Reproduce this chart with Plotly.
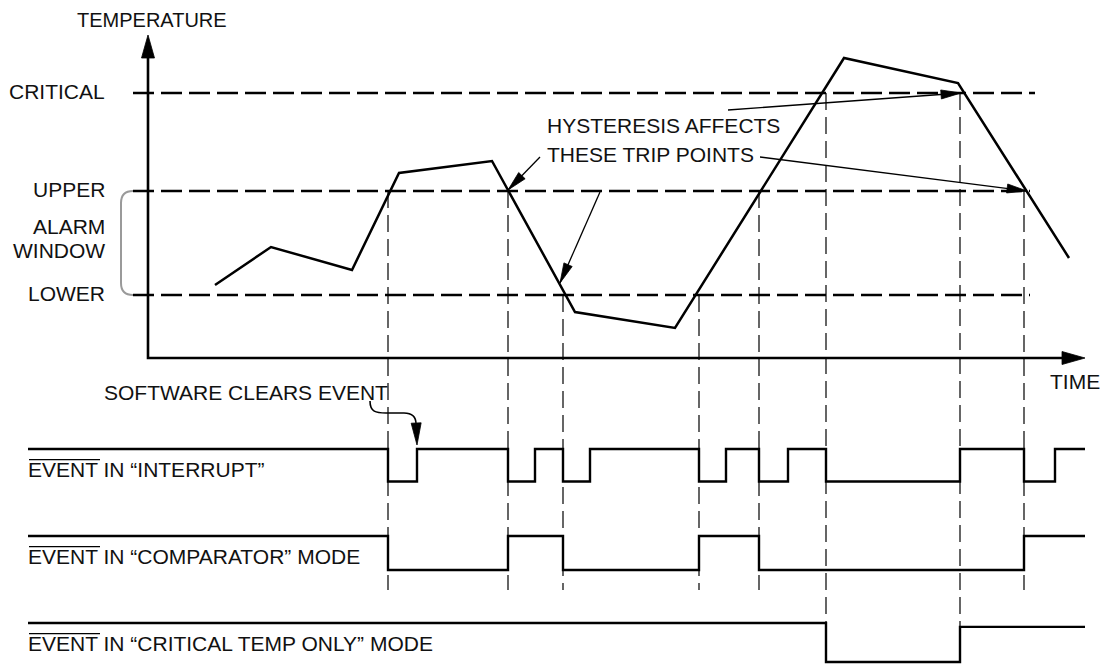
import math
import plotly.graph_objects as go

W, H = 1106, 664

# ---------------- values (diagram units) ----------------
# temperature trace
CURVE_TIME = [215, 271, 352, 399, 492, 575, 675, 844, 958, 1069]
CURVE_TEMP = [73, 111, 88, 185, 197, 46, 30, 300, 275, 100]

# threshold levels (temperature units above the time axis)
LEVEL_LABELS = ["CRITICAL", "UPPER", "LOWER"]
LEVEL_TEMPS = [265, 167, 63]
LEVEL_END = [1035, 1030, 1030]

# trip points (times where the event output changes)
TRIP_TIMES = [388, 508, 563, 699, 759, 826, 960, 1024]
TRIP_LEVEL = ["UPPER", "UPPER", "LOWER", "LOWER", "UPPER", "CRITICAL", "CRITICAL", "UPPER"]
TRIP_LAST_ROW = [1, 1, 1, 1, 1, 2, 2, 1]

# event outputs: transition times and states (1 = high, 0 = low)
SIGNAL_LABELS = [
    "EVENT IN \u201cINTERRUPT\u201d",
    "EVENT IN \u201cCOMPARATOR\u201d MODE",
    "EVENT IN \u201cCRITICAL TEMP ONLY\u201d MODE",
]
INT_TIME = [28, 388, 417, 508, 535, 563, 590, 699, 726, 759, 788, 826, 960, 1024, 1055, 1085]
INT_STATE = [1, 0, 1, 0, 1, 0, 1, 0, 1, 0, 1, 0, 1, 0, 1, 1]
CMP_TIME = [28, 388, 508, 563, 699, 759, 1024, 1085]
CMP_STATE = [1, 0, 1, 0, 1, 0, 1, 1]
CRT_TIME = [28, 826, 960, 1085]
CRT_STATE = [1, 0, 0.9, 0.9]

# ---------------- layout of the diagram (plot units, y up) ----------------
T0 = 148          # time origin
Y0 = 306          # temperature origin (time axis height)
X_END = 1085      # tip of time axis arrow
Y_END = 629       # tip of temperature axis arrow
LINE_START = 133  # threshold dashed lines start
ROW_HIGH = [215, 128, 41]
ROW_LOW = [182.5, 94, 2]
GUIDE_BOTTOM = 74
LABEL_X = 28
OVERLINE_W = 71   # width of the word EVENT

FONT = "Liberation Sans, Arial, Helvetica, sans-serif"
BLACK = "#000000"

fig = go.Figure()


def add_line(xs, ys, width=2.3, dash=None, color=BLACK, shape="linear"):
    fig.add_trace(go.Scatter(x=xs, y=ys, mode="lines", hoverinfo="skip",
                             line=dict(color=color, width=width, dash=dash, shape=shape)))


def add_head(tip, tail, length, half):
    dx, dy = tip[0] - tail[0], tip[1] - tail[1]
    n = math.hypot(dx, dy)
    ux, uy = dx / n, dy / n
    bx, by = tip[0] - ux * length, tip[1] - uy * length
    px, py = -uy, ux
    xs = [tip[0], bx + px * half, bx - px * half, tip[0]]
    ys = [tip[1], by + py * half, by - py * half, tip[1]]
    fig.add_trace(go.Scatter(x=xs, y=ys, mode="lines", fill="toself", fillcolor=BLACK,
                             hoverinfo="skip", line=dict(color=BLACK, width=0.8)))


level_y = {name: Y0 + t for name, t in zip(LEVEL_LABELS, LEVEL_TEMPS)}

# threshold dashed lines
for name, end in zip(LEVEL_LABELS, LEVEL_END):
    add_line([LINE_START, end], [level_y[name], level_y[name]], width=2.5, dash="21px,7px")

# trip guide lines
for t, lev, row in zip(TRIP_TIMES, TRIP_LEVEL, TRIP_LAST_ROW):
    bottom = GUIDE_BOTTOM if row == 1 else ROW_LOW[row]
    add_line([t, t], [level_y[lev], bottom], width=1.2, dash="17px,7px")

# alarm-window bracket (grey)
yu, yl = level_y["UPPER"], level_y["LOWER"]
fig.add_shape(type="path", xref="x", yref="y",
              path=f"M {LINE_START},{yu} Q {LINE_START-12},{yu} {LINE_START-12},{yu-12} "
                   f"L {LINE_START-12},{yl+12} Q {LINE_START-12},{yl} {LINE_START},{yl}",
              line=dict(color="#9a9a9a", width=2))

# axes
add_line([T0, T0, X_END - 20], [Y_END - 20, Y0, Y0], width=2.6)
add_head((T0, Y_END), (T0, Y0), 23, 6.5)
add_head((X_END, Y0), (T0, Y0), 23, 6.5)

# temperature curve
add_line(CURVE_TIME, [Y0 + t for t in CURVE_TEMP], width=2.5)

# event signals
for times, states, hi, lo in zip([INT_TIME, CMP_TIME, CRT_TIME],
                                 [INT_STATE, CMP_STATE, CRT_STATE], ROW_HIGH, ROW_LOW):
    add_line(times, [lo + s * (hi - lo) for s in states], width=2.4, shape="hv")

# overline on the active-low signal name EVENT
for hi in ROW_HIGH:
    add_line([LABEL_X + 1, LABEL_X + 1 + OVERLINE_W], [hi - 10.6, hi - 10.6], width=1.3)

# hysteresis call-out arrows
CALLOUTS = [((728, 554), (961, 571)),
            ((760, 507), (1027, 473)),
            ((540, 507), (508, 474)),
            ((600, 472), (560, 381))]
for tail, tip in CALLOUTS:
    add_line([tail[0], tip[0]], [tail[1], tip[1]], width=1.3)
    add_head(tip, tail, 20, 4.5)

# "software clears event" curved arrow
fig.add_shape(type="path", xref="x", yref="y",
              path="M 370,263 C 370,252 376,251 386,251 L 404,251 C 413,251 416,246 416,240",
              line=dict(color=BLACK, width=1.6))
add_head((417, 219), (416, 245), 22, 5)

# ---------------- text ----------------
ann = []


def txt(x, y, s, anchor="left", size=21):
    ann.append(dict(x=x, y=y, text=s, showarrow=False, xanchor=anchor, yanchor="middle",
                    borderpad=0, font=dict(family=FONT, size=size, color="#111111")))


for name in LEVEL_LABELS:
    txt(106, level_y[name] + 2, name, "right")
txt(106, 438, "ALARM", "right")
txt(106, 414, "WINDOW", "right")
txt(152, 644, "TEMPERATURE", "center", 20)
txt(1101, 283, "TIME", "right")
txt(103, 272, "SOFTWARE CLEARS EVENT", "left")
txt(546, 538.5, "HYSTERESIS AFFECTS", "left")
txt(546, 510, "THESE TRIP POINTS", "left")
for lab, hi in zip(SIGNAL_LABELS, ROW_HIGH):
    txt(LABEL_X - 1, hi - 20, lab, "left")

fig.update_layout(
    width=W, height=H, margin=dict(l=0, r=0, t=0, b=0),
    paper_bgcolor="white", plot_bgcolor="white", showlegend=False,
    xaxis=dict(range=[0, W], visible=False, fixedrange=True),
    yaxis=dict(range=[0, H], visible=False, fixedrange=True),
    annotations=ann,
)

fig.write_html("out.html", config={"displayModeBar": False},
               post_script="document.body.style.margin='0px';")
